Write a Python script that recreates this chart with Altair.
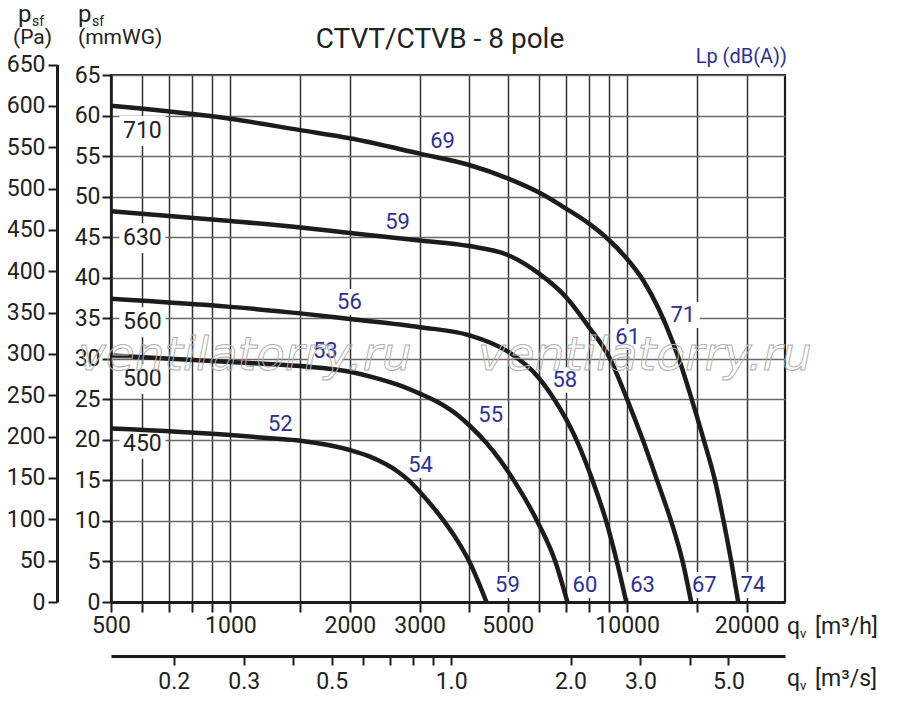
import altair as alt
import pandas as pd

# ---------------- data ----------------
# fan curves: airflow q [m3/h] and static pressure p [mmWG]
size_names = ["710", "630", "560", "500", "450"]

q_710 = [500, 1000, 1500, 2000, 3000, 4000, 5000, 6000, 7000, 8000, 9000, 10000,
         11000, 12000, 13000, 13500, 14550, 15600, 16650, 17500, 18300, 19050]
p_710 = [61.2, 59.6, 58.2, 57.2, 55.3, 53.9, 52.25, 50.5, 48.55, 46.7, 44.65, 42.3,
         39.6, 36.2, 32.2, 30.0, 25.0, 20.0, 15.0, 10.0, 5.0, 0.0]

q_630 = [500, 1000, 1500, 2000, 3000, 4000, 5000, 6000, 7000, 8000, 9000,
         10000, 10950, 11900, 12900, 13800, 14500]
p_630 = [48.2, 47.0, 46.2, 45.5, 44.6, 43.9, 42.8, 40.5, 37.65, 33.95, 30.25,
         25.0, 20.0, 15.0, 10.0, 5.0, 0.0]

q_560 = [500, 1000, 1500, 2000, 3000, 4000, 5000, 6000, 6550, 7450, 8180,
         8850, 9420, 9950]
p_560 = [37.4, 36.4, 35.6, 34.9, 33.9, 32.9, 30.9, 27.6, 25.0, 20.0, 15.0,
         10.0, 5.0, 0.0]

q_500 = [500, 1000, 1500, 2000, 2255, 2640, 3000, 3320, 3730, 4000, 4420, 4800,
         5180, 5930, 6590, 7070]
p_500 = [30.4, 29.6, 29.1, 28.4, 27.8, 26.8, 25.7, 24.7, 23.1, 21.8, 19.6, 17.4,
         15.0, 10.0, 5.0, 0.0]

q_450 = [500, 1000, 1260, 1500, 2000, 2255, 2640, 2815, 3000, 3450, 3730, 4000, 4420]
p_450 = [21.4, 20.6, 20.2, 19.9, 18.75, 17.9, 16.1, 15.0, 13.6, 10.0, 7.6, 5.0, 0.0]

curve_q = [q_710, q_630, q_560, q_500, q_450]
curve_p = [p_710, p_630, p_560, p_500, p_450]

# size labels (on the 600 m3/h line)
size_label_q = [600, 600, 600, 600, 600]
size_label_p = [58.1, 44.9, 34.5, 27.5, 19.5]

# sound level labels Lp dB(A)
db_text = ["69", "59", "56", "53", "52", "54", "55", "58", "61", "71",
           "59", "60", "63", "67", "74"]
db_q = [3426, 2638, 1995, 1735, 1336, 3015, 4530, 6965, 10030, 13810,
        4991, 7826, 10940, 15650, 20750]
db_p = [56.8, 46.9, 37.0, 30.9, 22.0, 16.9, 23.1, 27.4, 32.7, 35.4,
        2.1, 2.1, 2.1, 2.1, 2.1]

# axis ticks / labels
q_ticks = [500, 600, 700, 800, 900, 1000, 1500, 2000, 3000, 4000, 5000, 6000,
           7000, 8000, 9000, 10000, 15000, 20000]
q_labels = [500, 1000, 2000, 3000, 5000, 10000, 20000]
qs_ticks = [0.2, 0.3, 0.4, 0.5, 0.6, 0.7, 0.8, 0.9, 1.0, 2.0, 3.0, 4.0, 5.0]
qs_labels = [0.2, 0.3, 0.5, 1.0, 2.0, 3.0, 5.0]
mm_ticks = list(range(0, 66, 5))
pa_ticks = list(range(0, 651, 50))

# ---------------- tables ----------------
rows = []
for name, qs, ps in zip(size_names, curve_q, curve_p):
    for i, (q, p) in enumerate(zip(qs, ps)):
        rows.append({"size": name, "q": q, "p": p, "order": i})
curves = pd.DataFrame(rows)
size_df = pd.DataFrame({"t": size_names, "q": size_label_q, "p": size_label_p})
db_df = pd.DataFrame({"t": db_text, "q": db_q, "p": db_p})
axes_df = pd.DataFrame({"qs": [qs_ticks[0], qs_ticks[-1]], "pa": [pa_ticks[0], pa_ticks[-1]]})

# ---------------- layout ----------------
W, H = 674, 527
PA_PER_MM = 9.80665
FONT = "Roboto"
INK = "#1c1c1c"
TXT = "#222222"
BLUE = "#2d3092"

xq_scale = alt.Scale(type="log", domain=[500, 25000], nice=False)
ymm_scale = alt.Scale(domain=[0, 65], nice=False)
xs_scale = alt.Scale(type="log", domain=[500 / 3600, 25000 / 3600], nice=False)
ypa_scale = alt.Scale(domain=[0, 650], nice=False,
                      range=[H, H - 650 / PA_PER_MM * H / 65])

x_axis = alt.Axis(
    values=q_ticks,
    labelExpr=f"indexof({q_labels}, datum.value) >= 0 ? format(datum.value, 'd') : ''",
    title=None, grid=True, gridColor="#333333", gridWidth=1.5,
    tickSize=10, tickWidth=2, tickColor=INK, domainWidth=3, domainColor=INK,
    labelFont=FONT, labelFontSize=23, labelColor=TXT, labelPadding=2,
    labelFlush=False, labelOverlap=False, labelBound=False)
y_axis = alt.Axis(
    values=mm_ticks, title=None, grid=True, gridColor="#6a6a6a", gridWidth=1.5,
    tickSize=9, tickWidth=2, tickColor=INK, domainWidth=2.5, domainColor=INK,
    labelFont=FONT, labelFontSize=23, labelColor=TXT, labelPadding=2,
    labelOverlap=False)
pa_axis = alt.Axis(
    orient="left", offset=54, values=pa_ticks, title=None, grid=False,
    tickSize=9, tickWidth=2, tickColor=INK, domainWidth=3, domainColor=INK,
    labelFont=FONT, labelFontSize=23, labelColor=TXT, labelPadding=3,
    labelOverlap=False)
qs_axis = alt.Axis(
    orient="bottom", offset=54, values=qs_ticks,
    labelExpr=f"indexof({qs_labels}, datum.value) >= 0 ? format(datum.value, '.1f') : ''",
    title=None, grid=False, tickSize=9, tickWidth=2, tickColor=INK,
    domainWidth=3, domainColor=INK, labelFont=FONT, labelFontSize=23,
    labelColor=TXT, labelPadding=5, labelFlush=False, labelOverlap=False)

X = alt.X("q:Q", scale=xq_scale, axis=x_axis)
Y = alt.Y("p:Q", scale=ymm_scale, axis=y_axis)

BOX_BLUE = "M-1,-0.76L1,-0.76L1,0.76L-1,0.76Z"
BOX_BLACK = "M-1,-0.65L1,-0.65L1,0.65L-1,0.65Z"

box_black = alt.Chart(size_df).mark_point(
    shape=BOX_BLACK, size=46 ** 2, filled=True, color="white", opacity=1
).encode(x=X, y=Y)
box_blue = alt.Chart(db_df).mark_point(
    shape=BOX_BLUE, size=34 ** 2, filled=True, color="white", opacity=1
).encode(x=X, y=Y)

lines = alt.Chart(curves).mark_line(
    color=INK, strokeWidth=4.5, interpolate="monotone"
).encode(x=X, y=Y, detail="size:N", order="order:Q")

size_txt = alt.Chart(size_df).mark_text(
    font=FONT, fontSize=23, color=TXT, align="center", baseline="middle"
).encode(x=X, y=Y, text="t:N")
db_txt = alt.Chart(db_df).mark_text(
    font=FONT, fontSize=22, color=BLUE, align="center", baseline="middle"
).encode(x=X, y=Y, text="t:N")

one = pd.DataFrame({"a": [0]})


def note(text, x, y, size, color=TXT, align="left", **kw):
    return alt.Chart(one).mark_text(
        text=text, font=kw.pop("font", FONT), fontSize=size, color=color,
        align=align, baseline="alphabetic", **kw
    ).encode(x=alt.value(x), y=alt.value(y))


notes = [
    note("CTVT/CTVB - 8 pole", 329, -27, 28, align="center"),
    note("Lp (dB(A))", 676, -12, 20, color=BLUE, align="right"),
    note("p", -93, -53, 24),
    note("sf", -79, -49, 14),
    note("(Pa)", -98, -31, 21),
    note("p", -33, -53, 24),
    note("sf", -19, -49, 14),
    note("(mmWG)", -33, -31, 21),
    note("q", 676, 559, 23),
    note("v", 689, 563, 13),
    note("[m³/h]", 704, 559, 23),
    note("q", 676, 611, 23),
    note("v", 689, 615, 13),
    note("[m³/s]", 704, 611, 23),
]

wm = [
    alt.Chart(one).mark_text(
        text="ventilatorry.ru", font="DejaVu Sans", fontStyle="italic", fontSize=47,
        align="left", baseline="alphabetic", fillOpacity=0, stroke="#b0b0b0",
        strokeWidth=1
    ).encode(x=alt.value(x0), y=alt.value(295))
    for x0 in (-33, 367)
]

inner = alt.layer(box_black, box_blue, lines, size_txt, db_txt, *notes, *wm)

axes_layer = alt.Chart(axes_df).mark_point(opacity=0).encode(
    x=alt.X("qs:Q", scale=xs_scale, axis=qs_axis),
    y=alt.Y("pa:Q", scale=ypa_scale, axis=pa_axis),
)

chart = alt.layer(inner, axes_layer).resolve_scale(
    x="independent", y="independent"
).properties(
    width=W, height=H,
    autosize=alt.AutoSizeParams(type="none"),
    padding={"left": 103, "top": 67, "right": 100, "bottom": 95},
).configure_view(stroke=INK, strokeWidth=2.2)

chart.save("out.html", embed_options={"renderer": "svg", "actions": False})
